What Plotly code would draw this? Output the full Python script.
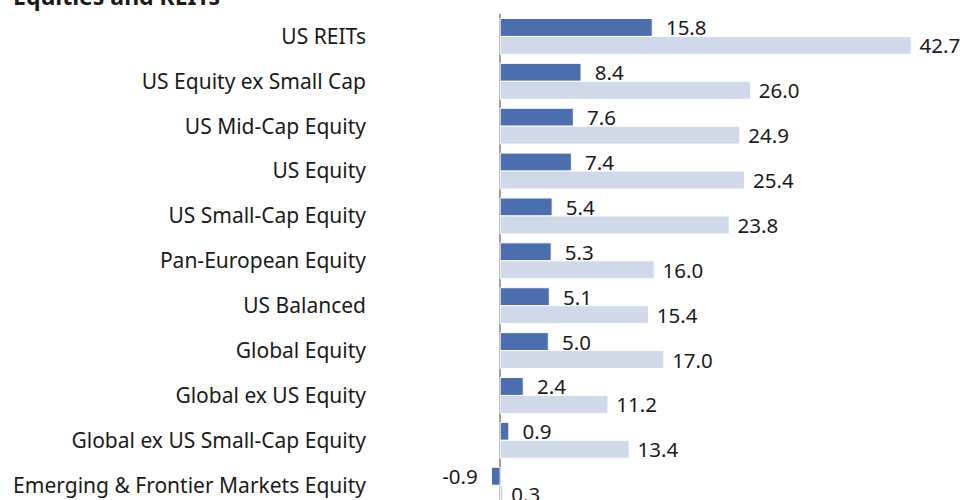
import plotly.graph_objects as go

categories = [
    "US REITs",
    "US Equity ex Small Cap",
    "US Mid-Cap Equity",
    "US Equity",
    "US Small-Cap Equity",
    "Pan-European Equity",
    "US Balanced",
    "Global Equity",
    "Global ex US Equity",
    "Global ex US Small-Cap Equity",
    "Emerging & Frontier Markets Equity",
]
series_a = [15.8, 8.4, 7.6, 7.4, 5.4, 5.3, 5.1, 5.0, 2.4, 0.9, -0.9]
series_b = [42.7, 26.0, 24.9, 25.4, 23.8, 16.0, 15.4, 17.0, 11.2, 13.4, 0.3]
title_text = "Equities and REITs"

FONT = "Noto Sans"
TXT = "#1a1a1a"
NB = "\u00a0"


def label(v, n):
    s = f"{v:.1f}"
    return (s + NB * n) if v < 0 else (NB * n + s)


fig = go.Figure()
fig.add_trace(go.Bar(
    y=categories, x=series_a, orientation="h", name="A",
    marker=dict(color="#4a6eae", line=dict(color="white", width=1)),
    text=[label(v, 2) for v in series_a], textposition="outside",
    constraintext="none",
    textfont=dict(family=FONT, size=20.5, color=TXT), cliponaxis=False,
))
fig.add_trace(go.Bar(
    y=categories, x=series_b, orientation="h", name="B",
    marker=dict(color="#cfd9ea", line=dict(color="white", width=1)),
    text=[label(v, 1) for v in series_b], textposition="outside",
    constraintext="none",
    textfont=dict(family=FONT, size=20.5, color=TXT), cliponaxis=False,
))

fig.update_layout(
    width=960, height=500,
    barmode="group", bargap=0.2, bargroupgap=0,
    showlegend=False,
    plot_bgcolor="white", paper_bgcolor="white",
    margin=dict(l=375, r=17, t=14, b=0),
    font=dict(family=FONT, size=21, color=TXT),
    xaxis=dict(range=[-13, 46], showgrid=False, showticklabels=False,
               zeroline=True, zerolinecolor="#a0a0a0", zerolinewidth=2,
               showline=False, ticks=""),
    yaxis=dict(range=[10.33, -0.5], showgrid=False, showline=False,
               ticks="", ticklabelstandoff=8, automargin=False,
               tickfont=dict(family=FONT, size=21, color=TXT)),
)
fig.add_annotation(
    text=title_text, xref="paper", yref="paper", x=-0.641, y=1,
    xanchor="left", yanchor="bottom", yshift=0, showarrow=False,
    font=dict(family=FONT, size=23, color=TXT, weight="bold"),
)

fig.write_html("out.html", config={"displayModeBar": False},
               post_script="document.body.style.margin='0';")
